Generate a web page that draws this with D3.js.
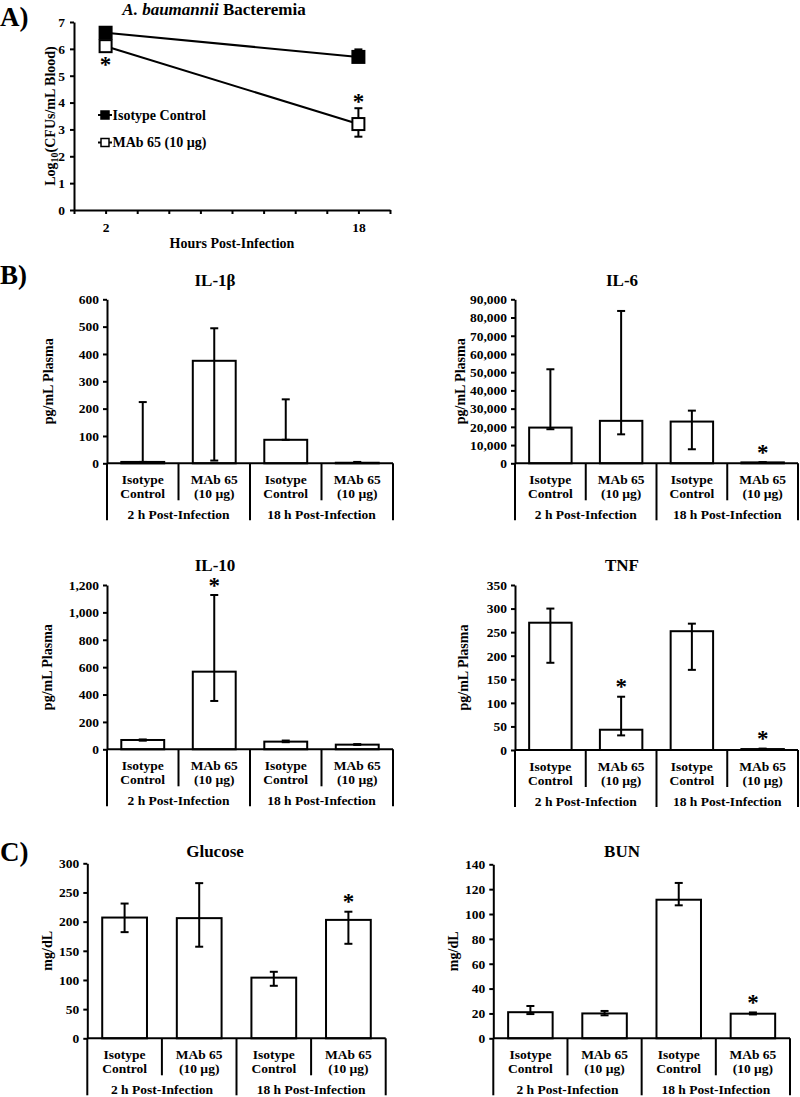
<!DOCTYPE html>
<html>
<head>
<meta charset="utf-8">
<script src="https://cdn.jsdelivr.net/npm/d3@7"></script>
<style>
  html, body { margin: 0; padding: 0; background: #fff; }
  svg { display: block; }
  text { font-family: 'Liberation Serif', 'Times New Roman', serif; font-weight: bold; fill: #000; }
</style>
</head>
<body>
<script>
// ---------------- DATA ----------------
// Panel A: bacteremia time course
const hours = [2, 18];
const hourTicks = [0, 2, 4, 6, 8, 10, 12, 14, 16, 18, 20];
const hourLabels = [2, 18];
const cfuIsotype = [6.6, 5.7];
const cfuIsotypeLo = [6.6, 5.7];
const cfuIsotypeHi = [6.6, 5.98];
const cfuMAb = [6.1, 3.2];
const cfuMAbLo = [6.1, 2.73];
const cfuMAbHi = [6.1, 3.79];
const cfuMAbStars = ["below", "above"];
const cfuTicks = [0, 1, 2, 3, 4, 5, 6, 7];
const legendNames = ["Isotype Control", "MAb 65 (10 µg)"];

// Bar panels: categories
const treatmentLines = [["Isotype", "Control"], ["MAb 65", "(10 µg)"], ["Isotype", "Control"], ["MAb 65", "(10 µg)"]];
const groupLabels = ["2 h Post-Infection", "18 h Post-Infection"];

// IL-1β
const il1bValues = [5, 375, 86, 2];
const il1bLo = [5, 10, 86, 2];
const il1bHi = [224, 494, 234, 5];
const il1bStars = [false, false, false, false];
const il1bTicks = [0, 100, 200, 300, 400, 500, 600];

// IL-6
const il6Values = [19600, 23300, 22900, 500];
const il6Lo = [18700, 15900, 7700, 500];
const il6Hi = [51600, 83600, 28900, 600];
const il6Stars = [false, false, false, true];
const il6Ticks = [0, 10000, 20000, 30000, 40000, 50000, 60000, 70000, 80000, 90000];

// IL-10
const il10Values = [68, 567, 56, 34];
const il10Lo = [63, 353, 52, 32];
const il10Hi = [72, 1127, 64, 38];
const il10Stars = [false, true, false, false];
const il10Ticks = [0, 200, 400, 600, 800, 1000, 1200];

// TNF
const tnfValues = [270, 43, 252, 2];
const tnfLo = [185, 31, 170, 2];
const tnfHi = [300, 113, 268, 3];
const tnfStars = [false, true, false, true];
const tnfTicks = [0, 50, 100, 150, 200, 250, 300, 350];

// Glucose
const glucoseValues = [207, 206, 104, 203];
const glucoseLo = [182, 157, 90, 162];
const glucoseHi = [231, 266, 114, 217];
const glucoseStars = [false, false, false, true];
const glucoseTicks = [0, 50, 100, 150, 200, 250, 300];

// BUN
const bunValues = [21, 20, 111.5, 19.8];
const bunLo = [19.5, 18.5, 107, 19.2];
const bunHi = [26, 22, 125, 20.8];
const bunStars = [false, false, false, true];
const bunTicks = [0, 20, 40, 60, 80, 100, 120, 140];

// ---------------- DRAWING ----------------
const W = 800, H = 1097;
const svg = d3.select("body").append("svg").attr("width", W).attr("height", H);

const SERIF = "'Liberation Serif', 'Times New Roman', serif";
const TICK_FS = 13.5, CAT_FS = 13.5, TITLE_FS = 17, YLAB_FS = 14, STAR_FS = 23, PANEL_FS = 27;

function star(g, x, yc) {
  g.append("text").attr("x", x).attr("y", yc + STAR_FS * 0.42)
    .attr("text-anchor", "middle").style("font-size", STAR_FS + "px").text("*");
}

function errBar(g, x, yLo, yHi, cap) {
  g.append("line").attr("x1", x).attr("x2", x).attr("y1", yLo).attr("y2", yHi)
    .attr("stroke", "#000").attr("stroke-width", 2);
  [yLo, yHi].forEach(yy => g.append("line").attr("x1", x - cap / 2).attr("x2", x + cap / 2)
    .attr("y1", yy).attr("y2", yy).attr("stroke", "#000").attr("stroke-width", 2));
}

function styleAxis(ax, fs) {
  ax.attr("font-family", null).attr("font-size", null);
  ax.select(".domain").attr("stroke", "#000").attr("stroke-width", 2);
  ax.selectAll(".tick line").attr("stroke", "#000").attr("stroke-width", 2);
  ax.selectAll(".tick text").style("font-size", fs + "px")
    .style("font-family", SERIF).style("font-weight", "bold");
}

// Panel labels
[["A)", 17], ["B)", 275], ["C)", 852]].forEach(([t, yc]) => {
  svg.append("text").attr("x", 0).attr("y", yc).attr("dominant-baseline", "central")
    .style("font-size", PANEL_FS + "px").text(t);
});

// ---- Panel A ----
(function () {
  const g = svg.append("g");
  const x = d3.scaleLinear().domain([0, 20]).range([74, 390]);
  const y = d3.scaleLinear().domain([0, 7]).range([210, 22]);

  const ay = g.append("g").attr("transform", "translate(74,0)")
    .call(d3.axisLeft(y).tickValues(cfuTicks).tickSize(4).tickSizeOuter(0).tickPadding(5).tickFormat(d3.format("d")));
  styleAxis(ay, TICK_FS);
  const ax = g.append("g").attr("transform", "translate(0,210)")
    .call(d3.axisBottom(x).tickValues(hourTicks).tickSize(4).tickSizeOuter(0).tickPadding(8)
      .tickFormat(d => hourLabels.includes(d) ? d : ""));
  styleAxis(ax, TICK_FS);

  // title
  const t = g.append("text").attr("x", 214).attr("y", 9).attr("dominant-baseline", "central")
    .attr("text-anchor", "middle").style("font-size", TITLE_FS + "px");
  t.append("tspan").style("font-style", "italic").text("A. baumannii");
  t.append("tspan").text(" Bacteremia");

  // axis labels
  g.append("text").attr("x", 232).attr("y", 243).attr("dominant-baseline", "central")
    .attr("text-anchor", "middle").style("font-size", YLAB_FS + "px").text("Hours Post-Infection");
  const yl = g.append("text").attr("transform", "translate(50,116) rotate(-90)")
    .attr("text-anchor", "middle").attr("dominant-baseline", "central").style("font-size", YLAB_FS + "px");
  yl.append("tspan").text("Log");
  yl.append("tspan").attr("dy", 4).style("font-size", "10px").text("10");
  yl.append("tspan").attr("dy", -4).text("(CFUs/mL Blood)");

  const line = d3.line().x(d => x(d[0])).y(d => y(d[1]));
  const series = [
    { v: cfuIsotype, lo: cfuIsotypeLo, hi: cfuIsotypeHi, fill: "#000" },
    { v: cfuMAb, lo: cfuMAbLo, hi: cfuMAbHi, fill: "#fff" }
  ];
  series.forEach(s => {
    g.append("path").datum(hours.map((h, i) => [h, s.v[i]])).attr("d", line)
      .attr("fill", "none").attr("stroke", "#000").attr("stroke-width", 2);
  });
  series.forEach(s => {
    hours.forEach((h, i) => {
      if (s.hi[i] > s.v[i] || s.lo[i] < s.v[i]) errBar(g, x(h), y(s.lo[i]), y(s.hi[i]), 8);
    });
  });
  series.forEach(s => {
    hours.forEach((h, i) => {
      g.append("rect").attr("x", x(h) - 6).attr("y", y(s.v[i]) - 6).attr("width", 12).attr("height", 12)
        .attr("fill", s.fill).attr("stroke", "#000").attr("stroke-width", 2);
    });
  });
  hours.forEach((h, i) => {
    if (cfuMAbStars[i] === "below") star(g, x(h), y(cfuMAb[i]) + 16);
    else if (cfuMAbStars[i] === "above") star(g, x(h), y(cfuMAbHi[i]) - 9);
  });

  // legend
  const legY = [115, 142.5];
  legendNames.forEach((name, i) => {
    g.append("line").attr("x1", 98).attr("x2", 112).attr("y1", legY[i]).attr("y2", legY[i])
      .attr("stroke", "#000").attr("stroke-width", 2);
    g.append("rect").attr("x", 101).attr("y", legY[i] - 4).attr("width", 8).attr("height", 8)
      .attr("fill", series[i].fill).attr("stroke", "#000").attr("stroke-width", 1.5);
    g.append("text").attr("x", 112.5).attr("y", legY[i]).attr("dominant-baseline", "central")
      .style("font-size", "14px").text(name);
  });
})();

// ---- Bar panels ----
function barPanel(o) {
  const g = svg.append("g");
  const y = d3.scaleLinear().domain([0, o.ticks[o.ticks.length - 1]]).range([o.y0, o.yTop]);
  const x = d3.scaleBand().domain(d3.range(o.values.length)).range([o.x0, o.x1]).padding(0);
  const bw = x.bandwidth() * 0.6;

  // title
  g.append("text").attr("x", o.titleX).attr("y", o.titleY).attr("dominant-baseline", "central")
    .attr("text-anchor", "middle").style("font-size", TITLE_FS + "px").text(o.title);
  // y label
  g.append("text").attr("transform", `translate(${o.ylabX},${(o.y0 + o.yTop) / 2}) rotate(-90)`)
    .attr("text-anchor", "middle").attr("dominant-baseline", "central")
    .style("font-size", YLAB_FS + "px").text(o.ylabel);

  // bars
  o.values.forEach((v, i) => {
    const cx = x(i) + x.bandwidth() / 2;
    g.append("rect").attr("x", cx - bw / 2).attr("y", y(v)).attr("width", bw).attr("height", o.y0 - y(v))
      .attr("fill", "#fff").attr("stroke", "#000").attr("stroke-width", 2);
  });
  o.values.forEach((v, i) => {
    const cx = x(i) + x.bandwidth() / 2;
    errBar(g, cx, y(o.lo[i]), y(o.hi[i]), 8);
    if (o.stars[i]) star(g, cx, y(o.hi[i]) - 12);
  });

  // y axis
  const ay = g.append("g").attr("transform", `translate(${o.x0},0)`)
    .call(d3.axisLeft(y).tickValues(o.ticks).tickSize(4).tickSizeOuter(0).tickPadding(4).tickFormat(d3.format(",")));
  styleAxis(ay, TICK_FS);

  // x axis line & separators
  g.append("line").attr("x1", o.x0).attr("x2", o.x1).attr("y1", o.y0).attr("y2", o.y0)
    .attr("stroke", "#000").attr("stroke-width", 2);
  d3.range(o.values.length + 1).forEach(i => {
    const xx = o.x0 + x.step() * i;
    const long = i % 2 === 0;
    g.append("line").attr("x1", xx).attr("x2", xx).attr("y1", o.y0)
      .attr("y2", o.y0 + (long ? 57 : 37)).attr("stroke", "#000").attr("stroke-width", 2);
  });
  // category labels
  treatmentLines.forEach((lines, i) => {
    const cx = x(i) + x.bandwidth() / 2;
    lines.forEach((ln, j) => {
      g.append("text").attr("x", cx).attr("y", o.y0 + 16 + j * 14).attr("dominant-baseline", "central")
        .attr("text-anchor", "middle").style("font-size", CAT_FS + "px").text(ln);
    });
  });
  groupLabels.forEach((gl, k) => {
    const cx = o.x0 + x.step() * (2 * k + 1);
    g.append("text").attr("x", cx).attr("y", o.y0 + 51).attr("dominant-baseline", "central")
      .attr("text-anchor", "middle").style("font-size", CAT_FS + "px").text(gl);
  });
}

barPanel({ title: "IL-1β", titleX: 215, titleY: 280, ylabel: "pg/mL Plasma", ylabX: 48,
  x0: 107, x1: 393, yTop: 299.3, y0: 463.3, ticks: il1bTicks,
  values: il1bValues, lo: il1bLo, hi: il1bHi, stars: il1bStars });
barPanel({ title: "IL-6", titleX: 622, titleY: 280.5, ylabel: "pg/mL Plasma", ylabX: 460,
  x0: 515, x1: 798, yTop: 299.3, y0: 463.3, ticks: il6Ticks,
  values: il6Values, lo: il6Lo, hi: il6Hi, stars: il6Stars });
barPanel({ title: "IL-10", titleX: 215, titleY: 565, ylabel: "pg/mL Plasma", ylabX: 47,
  x0: 107, x1: 393, yTop: 585, y0: 749.3, ticks: il10Ticks,
  values: il10Values, lo: il10Lo, hi: il10Hi, stars: il10Stars });
barPanel({ title: "TNF", titleX: 622, titleY: 565, ylabel: "pg/mL Plasma", ylabX: 463,
  x0: 515, x1: 798, yTop: 585, y0: 750, ticks: tnfTicks,
  values: tnfValues, lo: tnfLo, hi: tnfHi, stars: tnfStars });
barPanel({ title: "Glucose", titleX: 215, titleY: 851.7, ylabel: "mg/dL", ylabX: 47,
  x0: 87.3, x1: 385.7, yTop: 863.3, y0: 1038.3, ticks: glucoseTicks,
  values: glucoseValues, lo: glucoseLo, hi: glucoseHi, stars: glucoseStars });
barPanel({ title: "BUN", titleX: 622, titleY: 851.7, ylabel: "mg/dL", ylabX: 453,
  x0: 493.3, x1: 790, yTop: 864.3, y0: 1038.3, ticks: bunTicks,
  values: bunValues, lo: bunLo, hi: bunHi, stars: bunStars });
</script>
</body>
</html>
